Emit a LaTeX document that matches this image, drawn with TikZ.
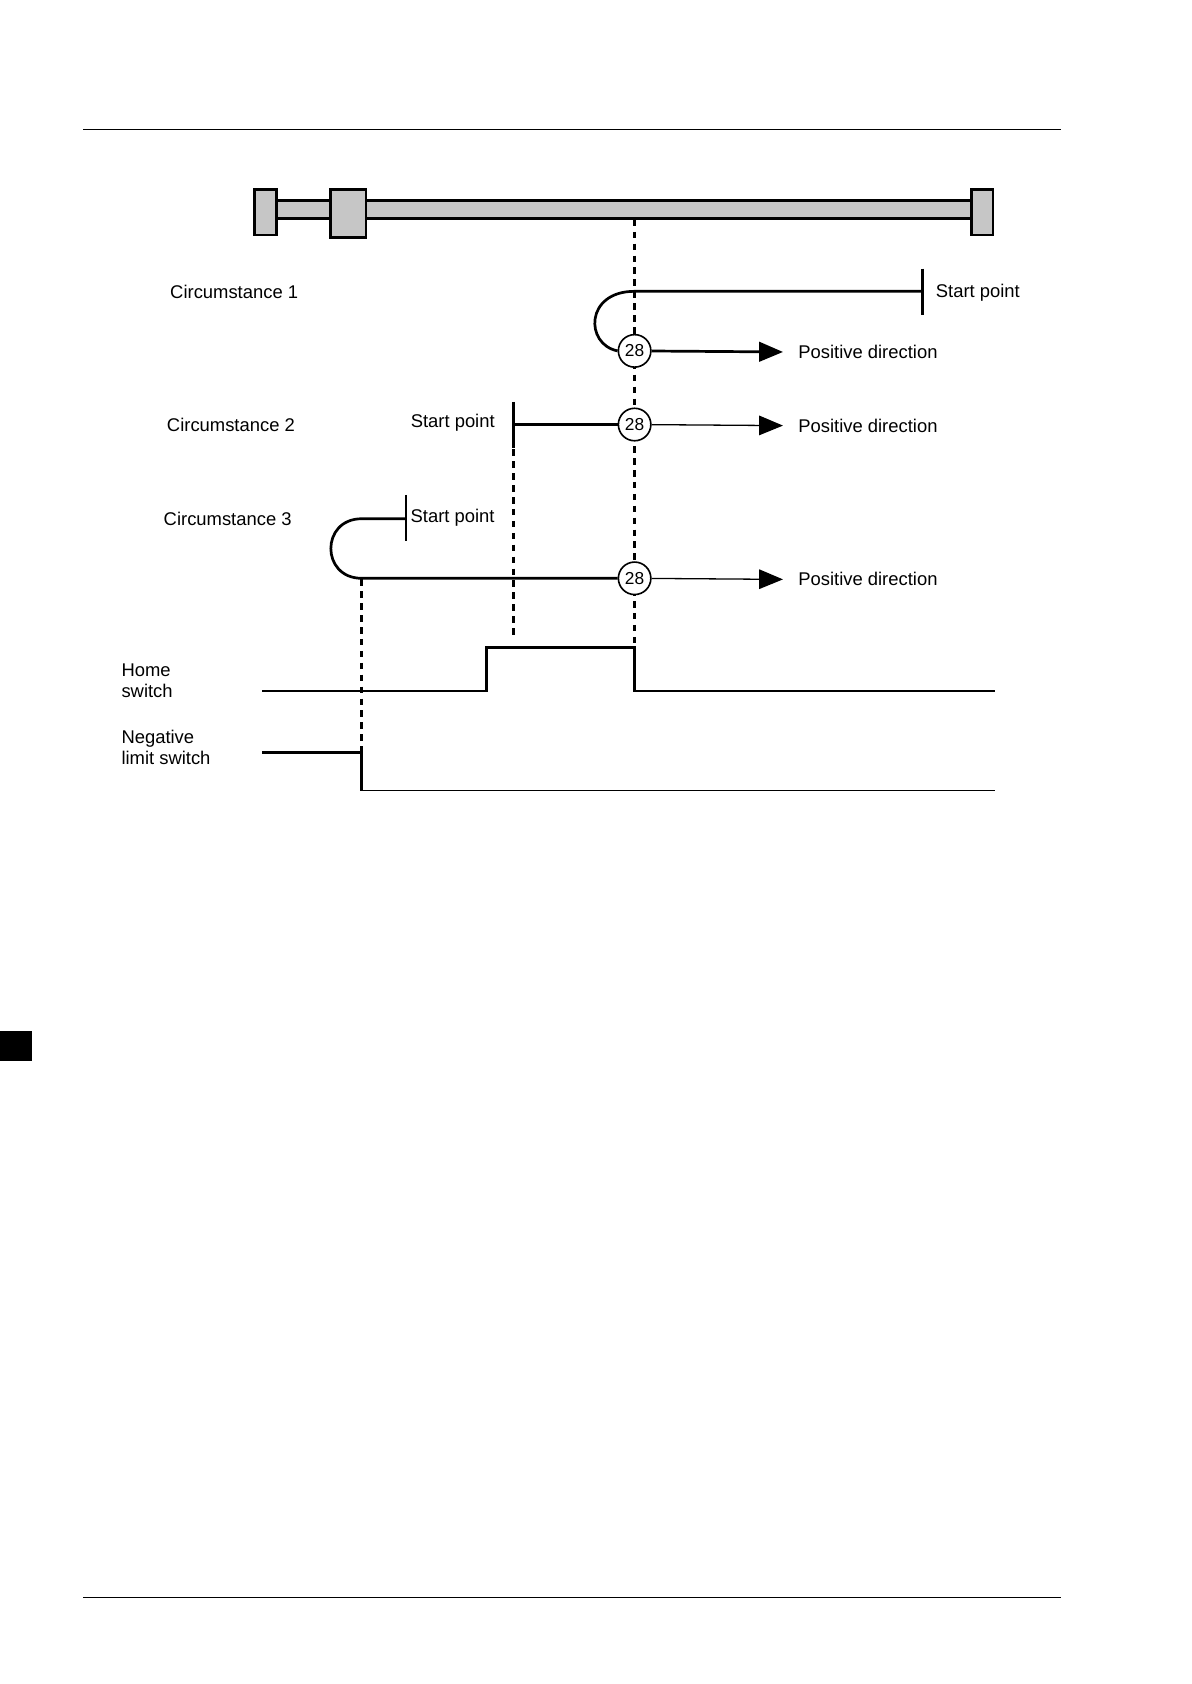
\documentclass[tikz,border=0pt]{standalone}
\usepackage{fontspec}
\setmainfont{Liberation Sans}
\usetikzlibrary{arrows.meta}
\tikzstyle{lbl} = [inner sep=0pt, font=\fontsize{17}{19}\selectfont, align=left]
\tikzstyle{hit} = [circle, draw, line width=1.5pt, fill=white, minimum size=30pt, inner sep=0pt, font=\fontsize{16}{16}\selectfont]
\tikzstyle{tick} = [draw, line width=2.5pt]
\tikzstyle{guide} = [draw, line width=2.5pt, dash pattern=on 6pt off 5pt]
\tikzstyle{signal} = [draw, line width=2.5pt]
\tikzstyle{line} = [draw, -{Triangle[length=22pt,width=18pt]}]

\begin{document}
\begin{tikzpicture}[x=1pt, y=-1pt]
    \useasboundingbox (0,0) rectangle (1100,1555);
    % page rules
    \draw[line width=1pt] (77,120) -- (980,120);
    \draw[line width=1pt] (77,1475) -- (980,1475);
    \fill (0,952) rectangle (30,980);
    % rail
    \draw[line width=2.5pt, fill=gray!45] (255,185) rectangle (897,202);
    \draw[line width=2.5pt, fill=gray!45] (235,175) rectangle (255,217);
    \draw[line width=2.5pt, fill=gray!45] (305,175) rectangle (338,219);
    \draw[line width=2.5pt, fill=gray!45] (897,175) rectangle (917,217);
    % guides
    \path [guide] (586,203) -- (586,598);
    \path [guide] (474,415) -- (474,590);
    \path [guide] (334,535) -- (334,730);
    % circumstance 1
    \node [lbl, anchor=west] (c1) at (157,270) {Circumstance 1};
    \coordinate (s1) at (852,269);
    \node [hit] (h1) at (586,324) {28};
    \node [lbl, anchor=west] (sp1) at (864,270) {Start point};
    \node [lbl, anchor=west] (pd1) at (737,325) {Positive direction};
    \path [tick] (852,248) -- (852,291);
    \draw[line width=2.5pt] (s1) -- (586,269) .. controls (540,269) and (540,318) .. (h1.west);
    \path [line, line width=2.5pt] (h1) -- ([xshift=-14pt]pd1.west);
    % circumstance 2
    \node [lbl, anchor=west] (c2) at (154,392) {Circumstance 2};
    \node [hit] (h2) at (586,392) {28};
    \node [lbl, anchor=east] (sp2) at (457,390) {Start point};
    \node [lbl, anchor=west] (pd2) at (737,393) {Positive direction};
    \path [tick] (474,371) -- (474,414);
    \draw[line width=2.5pt] (474,392) -- (h2);
    \path [line, line width=1.2pt] (h2) -- ([xshift=-14pt]pd2.west);
    % circumstance 3
    \node [lbl, anchor=west] (c3) at (151,479) {Circumstance 3};
    \node [hit] (h3) at (586,534) {28};
    \node [lbl, anchor=west] (sp3) at (379,478) {Start point};
    \node [lbl, anchor=west] (pd3) at (737,535) {Positive direction};
    \path [tick] (375,457) -- (375,500);
    \draw[line width=2.5pt] (375,479) -- (334,479) .. controls (296,479) and (296,534) .. (334,534) -- (h3);
    \path [line, line width=1.2pt] (h3) -- ([xshift=-14pt]pd3.west);
    % signals
    \node [lbl, anchor=north west] (home) at (112,613) {Home\\switch};
    \node [lbl, anchor=north west] (neg) at (112,674) {Negative\\limit switch};
    \path [signal] (242,638) -- (449,638) -- (449,598) -- (586,598) -- (586,638) -- (919,638);
    \path [signal] (242,695) -- (334,695) -- (334,730);
    \draw[line width=1.2pt] (334,730) -- (919,730);
\end{tikzpicture}
\end{document}
